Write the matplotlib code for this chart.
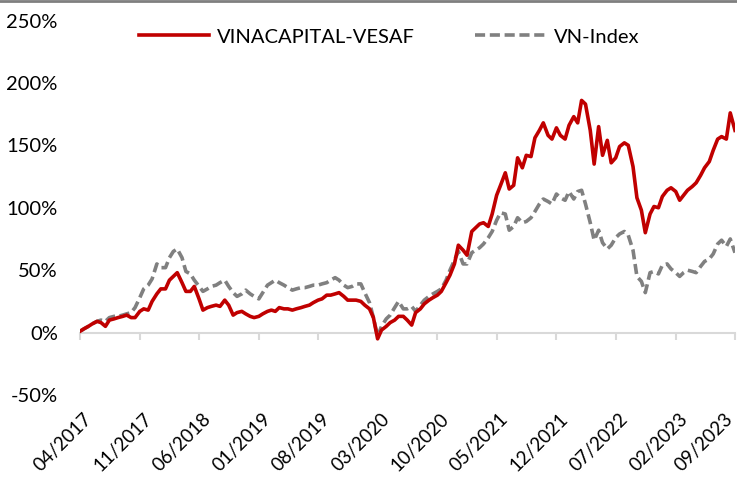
import matplotlib
matplotlib.use("Agg")
import matplotlib.pyplot as plt
import matplotlib.dates as mdates
import matplotlib.transforms as mtransforms
from matplotlib.lines import Line2D
import pandas as pd
import numpy as np

# semi-monthly observation dates, 04/2017 .. 09/2023
dates = pd.date_range("2017-04-01", "2023-09-01", freq="SMS")

vesaf = [1, 3, 5, 7, 9, 8, 5, 10, 11, 12, 13, 14, 12, 12, 17, 19, 18, 25, 31, 35,
         35, 42, 45, 48, 40, 33, 33, 37, 27, 18, 20, 21, 22, 21, 26, 22, 14, 16, 17, 15,
         13, 12, 13, 15, 17, 18, 17, 20, 19, 19, 18, 19, 20, 21, 22, 24, 26, 27, 30, 30,
         31, 32, 29, 26, 26, 26, 25, 22, 19, 12, -5, 2, 5, 8, 10, 13, 13, 10, 6, 16,
         19, 23, 26, 28, 30, 33, 40, 46, 55, 70, 66, 62, 81, 84, 87, 88, 85, 95, 110, 118,
         128, 115, 118, 140, 132, 142, 141, 156, 162, 168, 158, 155, 164, 158, 155, 166, 173, 168, 186, 183,
         162, 135, 165, 142, 154, 136, 140, 149, 152, 150, 133, 108, 98, 80, 95, 101, 100, 109, 114, 116,
         113, 106, 110, 114, 117, 120, 126, 132, 137, 146, 155, 157, 155, 176, 162]

vnindex = [1, 3, 5, 7, 9, 10, 9, 12, 13, 13, 14, 15, 16, 20, 28, 35, 38, 43, 55, 52,
           52, 60, 65, 67, 60, 49, 47, 42, 37, 33, 35, 37, 38, 40, 42, 37, 32, 29, 31, 34,
           31, 29, 27, 32, 38, 40, 42, 40, 38, 36, 34, 35, 36, 36, 37, 38, 38, 39, 40, 42,
           44, 42, 38, 36, 37, 39, 39, 32, 24, 12, -3, 5, 11, 14, 20, 25, 19, 19, 21, 17,
           22, 26, 29, 31, 33, 35, 42, 50, 58, 65, 55, 55, 64, 66, 68, 71, 76, 81, 90, 96,
           95, 82, 85, 92, 88, 89, 92, 97, 103, 107, 105, 103, 111, 108, 106, 113, 107, 113, 114, 103,
           88, 74, 82, 72, 67, 70, 76, 79, 81, 78, 66, 45, 41, 32, 48, 49, 47, 54, 55, 51,
           48, 45, 48, 50, 49, 48, 53, 57, 59, 63, 71, 74, 69, 75, 64]

series_names = ["VINACAPITAL-VESAF", "VN-Index"]
tick_labels = ["04/2017", "11/2017", "06/2018", "01/2019", "08/2019", "03/2020",
               "10/2020", "05/2021", "12/2021", "07/2022", "02/2023", "09/2023"]
y_ticks = [-50, 0, 50, 100, 150, 200, 250]

FONT = "Lato"
RED = "#C00000"
GRAY = "#808080"
FS = 14.5

fig = plt.figure(figsize=(7.37, 4.90), dpi=100)
ax = fig.add_axes([80 / 737, 1 - 395 / 490, 655 / 737, (395 - 20.5) / 490])

x = mdates.date2num(dates.to_pydatetime())
ax.plot(x, vesaf, color=RED, lw=2.6, solid_joinstyle="round", label=series_names[0], zorder=3)
ax.plot(x, vnindex, color=GRAY, lw=2.6, dashes=(2.8, 1.3), label=series_names[1], zorder=2)

tick_dates = pd.to_datetime(["%s-%s-01" % (t[3:], t[:2]) for t in tick_labels])
tx = mdates.date2num(tick_dates.to_pydatetime())
ax.set_xlim(tx[0], tx[-1])
ax.set_ylim(-50, 250)

for s in ["top", "right", "left"]:
    ax.spines[s].set_visible(False)
ax.spines["bottom"].set_position(("data", 0))
ax.spines["bottom"].set_color("#D9D9D9")
ax.spines["bottom"].set_linewidth(1.5)
ax.tick_params(axis="x", direction="out", length=5, width=1.5, color="#D9D9D9", pad=51)
ax.tick_params(axis="y", length=0, pad=16)

ax.set_xticks(tx)
ax.set_xticklabels(tick_labels, fontsize=13.5, family=FONT, color="#000000")
labels = ax.get_xticklabels()
for i, lab in enumerate(labels):
    dx = 3 if i < len(labels) - 1 else -11
    lab.set_rotation(45)
    lab.set_ha("right")
    lab.set_va("top")
    lab.set_rotation_mode("anchor")
    lab.set_transform(lab.get_transform() +
                      mtransforms.ScaledTranslation(dx / 100, 0, fig.dpi_scale_trans))
ax.set_yticks(y_ticks)
ax.set_yticklabels(["%d%%" % v for v in y_ticks], fontsize=FS, family=FONT, color="#000000")

leg = ax.legend(loc="center", bbox_to_anchor=(389 / 737, 1 - 37 / 490),
                bbox_transform=fig.transFigure, ncol=2, frameon=False,
                prop={"family": FONT, "size": FS}, handlelength=3.5,
                handletextpad=0.4, columnspacing=3.0)

fig.add_artist(Line2D([0, 1], [1 - 1 / 490, 1 - 1 / 490], transform=fig.transFigure,
                      color="#7F7F7F", lw=2))

fig.savefig("out.png", dpi=100)
